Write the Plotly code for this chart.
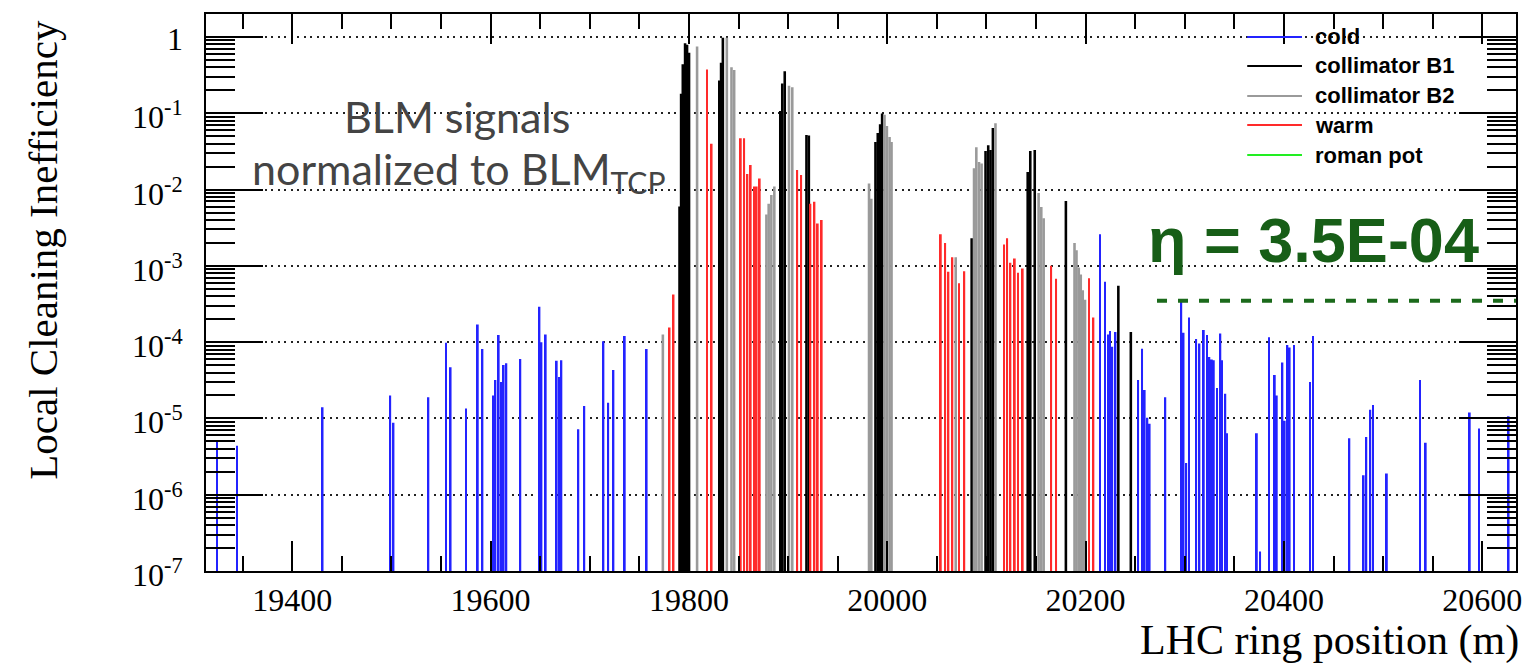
import math
import plotly.graph_objects as go

# ---- BLM positions along the ring (m) and normalized loss signals ----
cold_pos = [19324.2, 19344.3, 19430.6, 19498.8, 19502.1, 19537.3, 19555.0, 19559.7,
            19575.1, 19587.1, 19591.8, 19602.9, 19604.9, 19608.2, 19610.5, 19613.2,
            19615.9, 19630.0, 19649.3, 19651.3, 19655.6, 19666.7, 19669.1, 19671.4,
            19688.5, 19694.5, 19713.8, 19718.6, 19723.9, 19735.3, 19757.4,
            20214.5, 20219.5, 20222.9, 20224.5, 20226.9, 20230.2, 20253.0, 20257.0,
            20259.6, 20262.3, 20264.6, 20280.4, 20296.5, 20298.8, 20301.5, 20304.2,
            20311.5, 20314.8, 20319.2, 20322.5, 20324.8, 20327.3, 20329.3, 20332.6,
            20335.9, 20337.6, 20340.9, 20342.6, 20372.7, 20376.0, 20385.0, 20390.8,
            20392.8, 20398.5, 20400.8, 20403.5, 20405.8, 20410.1, 20426.2, 20429.2,
            20466.0, 20480.4, 20483.1, 20487.1, 20489.8, 20503.8, 20537.2, 20543.0,
            20587.4, 20596.8, 20626.6]
cold_val = [5.2e-6, 4.4e-6, 1.4e-5, 2.0e-5, 8.8e-6, 1.9e-5, 9.8e-5, 4.7e-5,
            1.35e-5, 1.7e-4, 8.1e-5, 2.0e-5, 3.2e-5, 1.24e-4, 3.0e-5, 5.0e-5,
            5.3e-5, 6.0e-5, 2.9e-4, 1.0e-4, 1.26e-4, 5.7e-5, 3.5e-5, 5.8e-5,
            7.2e-6, 1.45e-5, 1.03e-4, 1.6e-5, 4.3e-5, 1.2e-4, 8.1e-5,
            2.6e-3, 6.2e-4, 1.26e-4, 1.4e-4, 8.7e-5, 1.36e-4, 3.2e-5, 8.2e-5,
            2.35e-5, 1.02e-5, 8.5e-6, 1.9e-5, 3.5e-4, 1.33e-4, 2.6e-6, 2.1e-4,
            1.1e-4, 9.6e-5, 1.44e-4, 1.24e-4, 6.4e-5, 5.9e-5, 5.8e-5, 2.5e-5,
            1.3e-4, 5.8e-5, 2.1e-5, 6.4e-6, 6.4e-6, 1.8e-7, 1.16e-4, 3.7e-5,
            2.0e-5, 5.4e-5, 9.3e-6, 9.2e-5, 8.5e-5, 9.2e-5, 3.0e-5, 1.2e-4,
            5.5e-6, 1.8e-6, 5.7e-6, 1.3e-5, 1.5e-5, 1.9e-6, 3.2e-5, 4.8e-6,
            1.2e-5, 7.4e-6, 1.07e-5]

coll_b1_pos = [19790.5, 19792.1, 19793.8, 19796.1, 19798.1, 19800.1, 19830.6, 19832.4,
               19834.2, 19892.1, 19894.1, 19896.6, 19918.5, 19920.9, 19988.1, 19990.4,
               19992.8, 19994.8, 20085.1, 20099.1, 20101.8, 20104.1, 20106.5, 20141.6,
               20144.2, 20148.7, 20180.1, 20233.0, 20245.6]
coll_b1_val = [6e-3, 0.18, 0.44, 0.83, 0.79, 0.62, 0.27, 0.46,
               0.98, 0.107, 0.245, 0.355, 0.052, 0.051, 0.042, 0.055,
               0.072, 0.099, 0.0023, 0.032, 0.038, 0.033, 0.064, 0.017,
               0.032, 0.033, 0.0071, 5.5e-4, 1.36e-4]

coll_b2_pos = [19773.7, 19808.2, 19838.2, 19842.9, 19845.6, 19878.1, 19880.4, 19883.1,
               19886.1, 19900.9, 19904.2, 19981.6, 19983.9, 19997.2, 19999.6, 20002.3,
               20004.3, 20069.0, 20087.5, 20089.8, 20092.5, 20095.1, 20109.1, 20152.6,
               20155.3, 20157.7, 20188.8, 20190.8, 20193.1, 20195.1, 20197.1, 20199.4]
coll_b2_val = [1.26e-4, 0.75, 0.98, 0.40, 0.37, 0.0047, 0.0065, 0.0085,
               0.011, 0.23, 0.22, 0.012, 0.0076, 0.096, 0.068, 0.049,
               0.042, 0.0013, 0.019, 0.036, 0.023, 0.022, 0.074, 0.0090,
               0.0059, 0.0042, 0.0020, 0.0016, 9.5e-4, 7.7e-4, 4.8e-4, 3.6e-4]

warm_pos = [19780.5, 19784.5, 19818.2, 19822.9, 19852.3, 19855.7, 19859.0, 19862.3,
            19865.7, 19868.3, 19871.4, 19909.2, 19913.2, 19922.5, 19926.6, 19929.9,
            19933.9, 20054.0, 20058.4, 20061.7, 20065.7, 20072.4, 20077.7, 20117.6,
            20120.9, 20124.2, 20128.6, 20131.9, 20136.6, 20165.3, 20170.3, 20203.5,
            20207.9]
warm_val = [1.55e-4, 4.2e-4, 0.375, 0.04, 0.047, 0.047, 0.016, 0.021,
            0.011, 0.011, 0.014, 0.018, 0.0155, 0.0065, 0.0069, 0.0036,
            0.004, 0.0026, 0.0020, 8.4e-4, 0.0013, 5.9e-4, 8.5e-4, 0.0019,
            0.0023, 0.0011, 0.00125, 8.1e-4, 9.2e-4, 0.001, 6.8e-4, 6.9e-4,
            2.1e-4]

roman_pot_pos = []
roman_pot_val = []

# global cleaning inefficiency and where its reference line starts (m)
eta = 3.5e-4
eta_line_start = 20272

x_tick_vals = [19400, 19600, 19800, 20000, 20200, 20400, 20600]
x_tick_text = ["19400", "19600", "19800", "20000", "20200", "20400", "20600"]
y_tick_exps = [0, -1, -2, -3, -4, -5, -6, -7]

# ---- styling ----
series = [
    ("cold", cold_pos, cold_val, "rgb(35,35,255)", 1.8),
    ("collimator B1", coll_b1_pos, coll_b1_val, "#000000", 2.6),
    ("collimator B2", coll_b2_pos, coll_b2_val, "#9a9a9a", 2.6),
    ("warm", warm_pos, warm_val, "#ff2a2a", 1.8),
    ("roman pot", roman_pot_pos, roman_pot_val, "#22ee22", 1.8),
]

X_RANGE = [19313, 20634]
Y_RANGE = [-7, 0.3015]
SERIF = "Liberation Serif, Times New Roman, serif"
GILL = "Lato, Open Sans, sans-serif"
SANS = "Liberation Sans, Arial, sans-serif"

fig = go.Figure()
for name, pos, val, color, w in series:
    fig.add_trace(go.Bar(x=pos, y=val, width=w, name=name, showlegend=False,
                         marker=dict(color=color, line=dict(width=0))))

fig.add_trace(go.Scatter(x=[eta_line_start, X_RANGE[1]], y=[eta, eta], mode="lines",
                         showlegend=False, hoverinfo="skip",
                         line=dict(color="#1b6a1b", width=4, dash="10px,11px")))

y_tick_vals = [10.0 ** e for e in y_tick_exps]
y_minor = [k * 10.0 ** e for e in range(-7, 1) for k in range(2, 10) if k * 10.0 ** e < 2.0]
x_minor = list(range(19350, 20651, 50))

fig.update_layout(
    width=1534, height=667,
    margin=dict(l=206, r=12, t=14, b=96),
    paper_bgcolor="white", plot_bgcolor="white",
    barmode="overlay",
    showlegend=False,
    xaxis=dict(
        range=X_RANGE, showgrid=False, zeroline=False,
        showline=True, linecolor="black", linewidth=2, mirror="allticks",
        tickmode="array", tickvals=x_tick_vals, ticktext=x_tick_text,
        ticks="inside", ticklen=30, tickwidth=1.5, tickcolor="black",
        minor=dict(tickmode="array", tickvals=x_minor, ticks="inside", ticklen=15,
                   tickwidth=1.5, tickcolor="black", showgrid=False),
        tickfont=dict(family=SERIF, size=32, color="black"),
        ticklabelstandoff=0,
        layer="above traces",
    ),
    yaxis=dict(
        type="log", range=Y_RANGE, zeroline=False,
        showline=True, linecolor="black", linewidth=2, mirror="allticks",
        tickmode="array", tickvals=y_tick_vals, showticklabels=False,
        ticks="inside", ticklen=57, tickwidth=2, tickcolor="black",
        showgrid=True, gridcolor="#222222", gridwidth=1.5, griddash="2px,4.5px",
        minor=dict(tickmode="array", tickvals=y_minor, ticks="inside", ticklen=29,
                   tickwidth=1.5, tickcolor="black", showgrid=False),
        layer="above traces",
    ),
)

PLOT_L, PLOT_R, PLOT_T, PLOT_B = 206, 1522, 14, 571


def px(xp):
    return (xp - PLOT_L) / (PLOT_R - PLOT_L)


def py(yp):
    return (PLOT_B - yp) / (PLOT_B - PLOT_T)


annotations = []
shapes = []

# decade labels on the log axis, right-aligned against the frame
for e, v in zip(y_tick_exps, y_tick_vals):
    label = "1" if e == 0 else f"10<sup>{e}</sup>"
    annotations.append(dict(text=label, xref="paper", yref="y", x=px(184), y=math.log10(v),
                            xanchor="right", yanchor="middle", showarrow=False,
                            yshift=-2, borderpad=0,
                            font=dict(family=SERIF, size=32, color="black")))

# axis titles
annotations.append(dict(text="Local Cleaning Inefficiency", xref="paper", yref="paper",
                        x=px(42), y=py(250), textangle=-90, showarrow=False,
                        xanchor="center", yanchor="middle",
                        font=dict(family=SERIF, size=41, color="black")))
annotations.append(dict(text="LHC ring position (m)", xref="paper", yref="paper",
                        x=px(1527), y=py(640), showarrow=False, xanchor="right", yanchor="middle",
                        font=dict(family=SERIF, size=42, color="black")))

# signal normalisation note
annotations.append(dict(text="BLM signals", xref="paper", yref="paper",
                        x=px(458), y=py(117), showarrow=False, xanchor="center", yanchor="middle",
                        font=dict(family=GILL, size=43, color="#444444")))
annotations.append(dict(text="normalized to BLM<sub>TCP</sub>", xref="paper", yref="paper",
                        x=px(460), y=py(171), showarrow=False, xanchor="center", yanchor="middle",
                        font=dict(family=GILL, size=43, color="#444444")))

# cleaning inefficiency label
annotations.append(dict(text=f"\u03b7 = {eta:.1E}", xref="paper", yref="paper",
                        x=px(1319), y=py(240), showarrow=False, xanchor="center", yanchor="middle",
                        font=dict(family=SANS, size=63, color="#175e17", weight="bold")))

# legend
legend_rows = [37, 66, 96, 125, 155]
for (name, _, _, color, _), row in zip(series, legend_rows):
    shapes.append(dict(type="line", xref="paper", yref="paper",
                       x0=px(1252), x1=px(1307), y0=py(row), y1=py(row),
                       line=dict(color=color, width=2)))
    annotations.append(dict(text=name, xref="paper", yref="paper",
                            x=px(1318), y=py(row), showarrow=False,
                            xanchor="left", yanchor="middle",
                            font=dict(family=SANS, size=22, color="black", weight="bold")))

fig.update_layout(annotations=annotations, shapes=shapes)

fig.write_html("out.html")
